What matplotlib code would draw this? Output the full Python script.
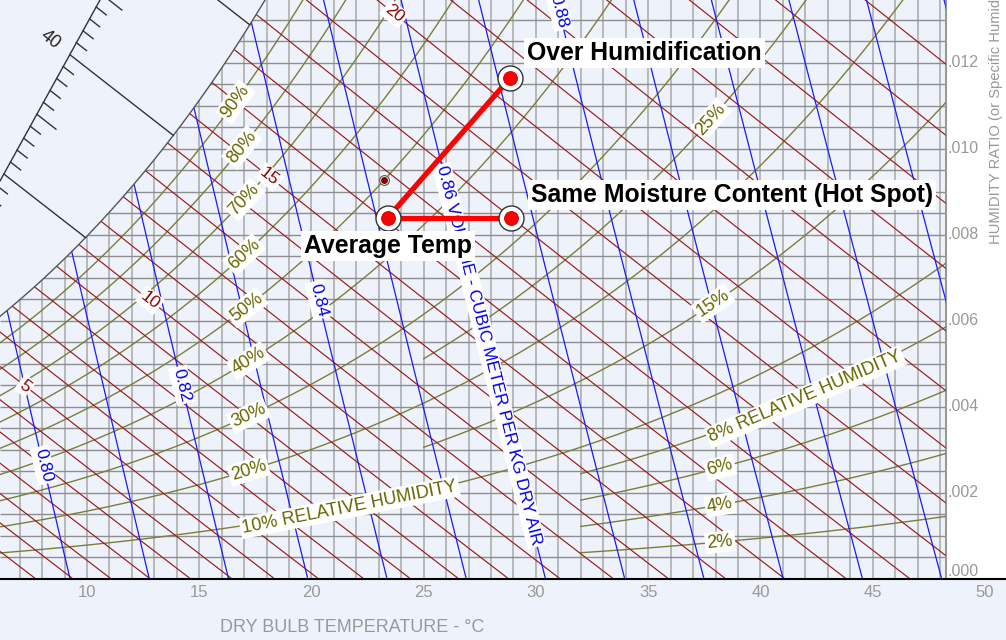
import numpy as np
import matplotlib.pyplot as plt
from matplotlib.patches import Polygon, Rectangle

plt.rcParams['font.family'] = ['Liberation Sans', 'DejaVu Sans']

# =========================
# chart frame
# =========================
T_MIN, T_MAX = 6.125, 50.94      # dry bulb at left / right edge of the figure
T_EDGE = 48.26                   # right edge of the chart body
W_MAX = 0.013465                 # humidity ratio at top edge
P_SAT = 97.0                     # kPa used for saturation + RH curves
P_STD = 101.325                  # kPa used for wet bulb + volume lines

# relative humidity curves
rh_levels = [2, 4, 6, 8, 10, 15, 20, 25, 30, 40, 50, 60, 70, 80, 90]
rh_start = [32, 32, 32, 32, T_MIN, 25, T_MIN, 25, T_MIN, T_MIN, T_MIN, T_MIN, T_MIN, T_MIN, T_MIN]
rh_labels = ['2%', '4%', '6%', '8% RELATIVE HUMIDITY', '10% RELATIVE HUMIDITY', '15%', '20%', '25%',
             '30%', '40%', '50%', '60%', '70%', '80%', '90%']
rh_label_t = [38.2, 38.2, 38.2, 42.0, 21.7, 37.9, 17.2, 37.8, 17.2, 17.2, 17.1, 17.0, 17.0, 16.9, 16.6]

# wet bulb lines (every 1 C), labelled ones
wb_levels = list(range(-2, 33))
wb_labels = [5, 10, 15, 20]
wb_label_t = [7.24, 12.8, 18.13, 23.7]

# specific volume lines
vol_levels = [0.78, 0.79, 0.80, 0.81, 0.82, 0.83, 0.84, 0.85, 0.86, 0.87, 0.88, 0.89, 0.90, 0.91, 0.92, 0.93]
vol_labels = ['0.80', '0.82', '0.84', '0.86 VOLUME - CUBIC METER PER KG DRY AIR', '0.88']
vol_label_v = [0.80, 0.82, 0.84, 0.86, 0.88]
vol_label_w = [0.00265, 0.00451, 0.00649, 0.0052, 0.0132]

# enthalpy scale (kJ/kg)
h_ticks = list(range(26, 48))
h_long = [30, 40, 50]
h_text = [40]
SCALE_T = [6.125, 10.58]
SCALE_W = [0.009256, 0.013465]

# state points
pt_names = ['Over Humidification', 'Average Temp', 'Same Moisture Content (Hot Spot)']
pt_t = [28.85, 23.4, 28.9]
pt_w = [0.01165, 0.0084, 0.0084]
small_t, small_w = 23.25, 0.00928

# axis ticks
x_ticks = [10, 15, 20, 25, 30, 35, 40, 45, 50]
w_ticks = [0.000, 0.002, 0.004, 0.006, 0.008, 0.010, 0.012]
w_tick_labels = ['.000', '.002', '.004', '.006', '.008', '.010', '.012']


# =========================
# psychrometric helpers
# =========================
def p_ws(t):
    tk = np.asarray(t, dtype=float) + 273.15
    ln = (-5.8002206e3 / tk + 1.3914993 - 4.8640239e-2 * tk + 4.1764768e-5 * tk ** 2
          - 1.4452093e-8 * tk ** 3 + 6.5459673 * np.log(tk))
    return np.exp(ln) / 1000.0


def w_rh(t, rh, p):
    pw = rh / 100.0 * p_ws(t)
    return 0.621945 * pw / (p - pw)


def w_wb(t, twb, p):
    ws = w_rh(twb, 100, p)
    return ((2501 - 2.326 * twb) * ws - 1.006 * (t - twb)) / (2501 + 1.86 * t - 4.186 * twb)


def t_vol(w, v, p):
    return v * p / (0.287042 * (1 + 1.6078 * w)) - 273.15


def w_h(t, h):
    return (h - 1.006 * t) / (2501 + 1.86 * t)


def angle(ax, t1, w1, t2, w2):
    a = ax.transData.transform((t1, w1))
    b = ax.transData.transform((t2, w2))
    return np.degrees(np.arctan2(b[1] - a[1], b[0] - a[0]))


# =========================
# figure
# =========================
BG = '#eef2fa'
fig = plt.figure(figsize=(10.06, 6.40), dpi=100, facecolor=BG)
ax = fig.add_axes([0, 61 / 640, 1, 579 / 640])
ax.set_facecolor(BG)
ax.set_xlim(T_MIN, T_MAX)
ax.set_ylim(0, W_MAX)
for s in ['top', 'left', 'right']:
    ax.spines[s].set_visible(False)
ax.spines['bottom'].set_color('black')
ax.spines['bottom'].set_linewidth(1.5)
ax.set_yticks([])
ax.set_xticks(x_ticks)
ax.tick_params(axis='x', length=0, pad=4, labelsize=12, labelcolor='#999999')

ax.add_patch(Rectangle((T_EDGE, 0), T_MAX - T_EDGE, W_MAX, facecolor='white',
                       edgecolor='none', zorder=0.5))

# saturation region used as clip path
tt = np.linspace(T_MIN, 30, 800)
ws = w_rh(tt, 100, P_SAT)
keep = ws <= W_MAX
t_top = np.interp(W_MAX, ws, tt)
poly_pts = ([(T_MIN, 0)] + list(zip(tt[keep], ws[keep])) +
            [(t_top, W_MAX), (T_EDGE, W_MAX), (T_EDGE, 0)])
clip = Polygon(poly_pts, closed=True, facecolor='none', edgecolor='none', transform=ax.transData)
ax.add_patch(clip)

# grid
vg = ax.vlines(np.arange(7, 49), 0, W_MAX, color='#a8a8a8', lw=1.1, zorder=1)
hg = ax.hlines(np.arange(0.0005, W_MAX, 0.0005), T_MIN, T_EDGE, color='#8e8e8e', lw=1.0, zorder=1)
vg.set_clip_path(clip)
hg.set_clip_path(clip)
ax.plot([T_EDGE, T_EDGE], [0, W_MAX], color='#999999', lw=1.5, zorder=1)

# relative humidity curves
for rh, t0 in zip(rh_levels, rh_start):
    t = np.linspace(t0, T_EDGE, 300)
    ln, = ax.plot(t, w_rh(t, rh, P_SAT), color='#7d7d3a', lw=1.0, zorder=2)
    ln.set_clip_path(clip)

# wet bulb lines
for twb in wb_levels:
    wsat = w_rh(twb, 100, P_STD)
    t_end = twb + (2501 - 2.326 * twb) * wsat / 1.006
    t = np.linspace(twb - 8, t_end, 200)
    ln, = ax.plot(t, w_wb(t, twb, P_STD), color='#9b1b1b', lw=0.85, zorder=2)
    ln.set_clip_path(clip)

# volume lines
wv = np.linspace(0, W_MAX, 60)
for v in vol_levels:
    ln, = ax.plot(t_vol(wv, v, P_STD), wv, color='#1a1aff', lw=0.9, zorder=2)
    ln.set_clip_path(clip)

# saturation curve
ax.plot(tt[keep], ws[keep], color='#555555', lw=1.0, zorder=3)

# enthalpy scale
ax.plot(SCALE_T, SCALE_W, color='#333333', lw=1.0, zorder=3)
slope = (SCALE_W[1] - SCALE_W[0]) / (SCALE_T[1] - SCALE_T[0])
tg = np.linspace(2, 25, 3000)
for h in h_ticks + [50]:
    f = w_h(tg, h) - (SCALE_W[0] + slope * (tg - SCALE_T[0]))
    ts = np.interp(0, -f, tg)
    if h in h_long:
        g = 1.006 * tg + w_rh(tg, 100, P_SAT) * (2501 + 1.86 * tg) - h
        te = np.interp(0, g, tg)
    elif h % 5 == 0:
        te = ts + 0.85
    else:
        te = ts + 0.45
    seg = np.linspace(ts, te, 20)
    ax.plot(seg, w_h(seg, h), color='#333333', lw=1.0, zorder=3)
    if h in h_text:
        tl = ts - 0.85
        ang = angle(ax, tl - 0.3, w_h(tl - 0.3, h), tl + 0.3, w_h(tl + 0.3, h))
        ax.text(tl, w_h(tl, h), str(h), rotation=ang, rotation_mode='anchor', ha='center',
                va='center', fontsize=13, color='#222222', zorder=4, clip_on=True)

LBOX = dict(boxstyle='square,pad=0.12', facecolor='white', edgecolor='none')

# RH labels
for rh, lab, tl in zip(rh_levels, rh_labels, rh_label_t):
    ang = angle(ax, tl - 0.3, w_rh(tl - 0.3, rh, P_SAT), tl + 0.3, w_rh(tl + 0.3, rh, P_SAT))
    ax.text(tl, w_rh(tl, rh, P_SAT), lab, rotation=ang, rotation_mode='anchor', ha='center',
            va='center', fontsize=13, color='#666600', bbox=LBOX, zorder=4, clip_on=True)

# wet bulb labels
for twb, tl in zip(wb_labels, wb_label_t):
    ang = angle(ax, tl - 0.3, w_wb(tl - 0.3, twb, P_STD), tl + 0.3, w_wb(tl + 0.3, twb, P_STD))
    ax.text(tl, w_wb(tl, twb, P_STD), str(twb), rotation=ang, rotation_mode='anchor', ha='center',
            va='center', fontsize=12.5, color='#8b0000', bbox=LBOX, zorder=4, clip_on=True)

# volume labels
for lab, v, wl in zip(vol_labels, vol_label_v, vol_label_w):
    ang = angle(ax, t_vol(wl + 0.0003, v, P_STD), wl + 0.0003, t_vol(wl - 0.0003, v, P_STD), wl - 0.0003)
    ax.text(t_vol(wl, v, P_STD), wl, lab, rotation=ang, rotation_mode='anchor', ha='center',
            va='center', fontsize=12.5, color='#0000ee', bbox=LBOX, zorder=4, clip_on=True)

# process lines and points
ax.plot([pt_t[1], pt_t[0]], [pt_w[1], pt_w[0]], color='red', lw=3.8, zorder=5, solid_capstyle='butt')
ax.plot([pt_t[1], pt_t[2]], [pt_w[1], pt_w[2]], color='red', lw=3.8, zorder=5, solid_capstyle='butt')
ax.plot(pt_t, pt_w, 'o', ms=18, mfc='white', mec='#333333', mew=1.0, zorder=6)
ax.plot(pt_t, pt_w, 'o', ms=10, mfc='red', mec='#cc0000', mew=0.6, zorder=6)
ax.plot([small_t], [small_w], 'o', ms=7, mfc='white', mec='#555555', mew=0.8, zorder=6)
ax.plot([small_t], [small_w], 'o', ms=4, mfc='#800000', mec='#800000', zorder=6)

TBOX = dict(boxstyle='square,pad=0.12', facecolor='white', edgecolor='none')
offsets = [(12.2, 18.0), (0.0, -20.5), (14.0, 16.6)]
aligns = ['left', 'center', 'left']
for name, t, w, off, ha in zip(pt_names, pt_t, pt_w, offsets, aligns):
    ax.annotate(name, xy=(t, w), xytext=off, textcoords='offset points', ha=ha, va='center',
                fontsize=17.8, fontweight='bold', color='black', bbox=TBOX, zorder=7)

# right axis labels
for w, lab in zip(w_ticks, w_tick_labels):
    ax.text(48.34, w, lab, ha='left', va='bottom' if w == 0 else 'center',
            fontsize=11.5, color='#999999', zorder=4)

fig.text(352 / 1006, 1 - 628 / 640, 'DRY BULB TEMPERATURE - °C', ha='center', va='center',
         fontsize=13, color='#999999')
fig.text(996 / 1006, 1 - 244 / 640, 'HUMIDITY RATIO (or Specific Humid',
         rotation=90, ha='center', va='bottom', fontsize=10.6, color='#999999')

fig.savefig('out.png', dpi=100, facecolor=fig.get_facecolor())
